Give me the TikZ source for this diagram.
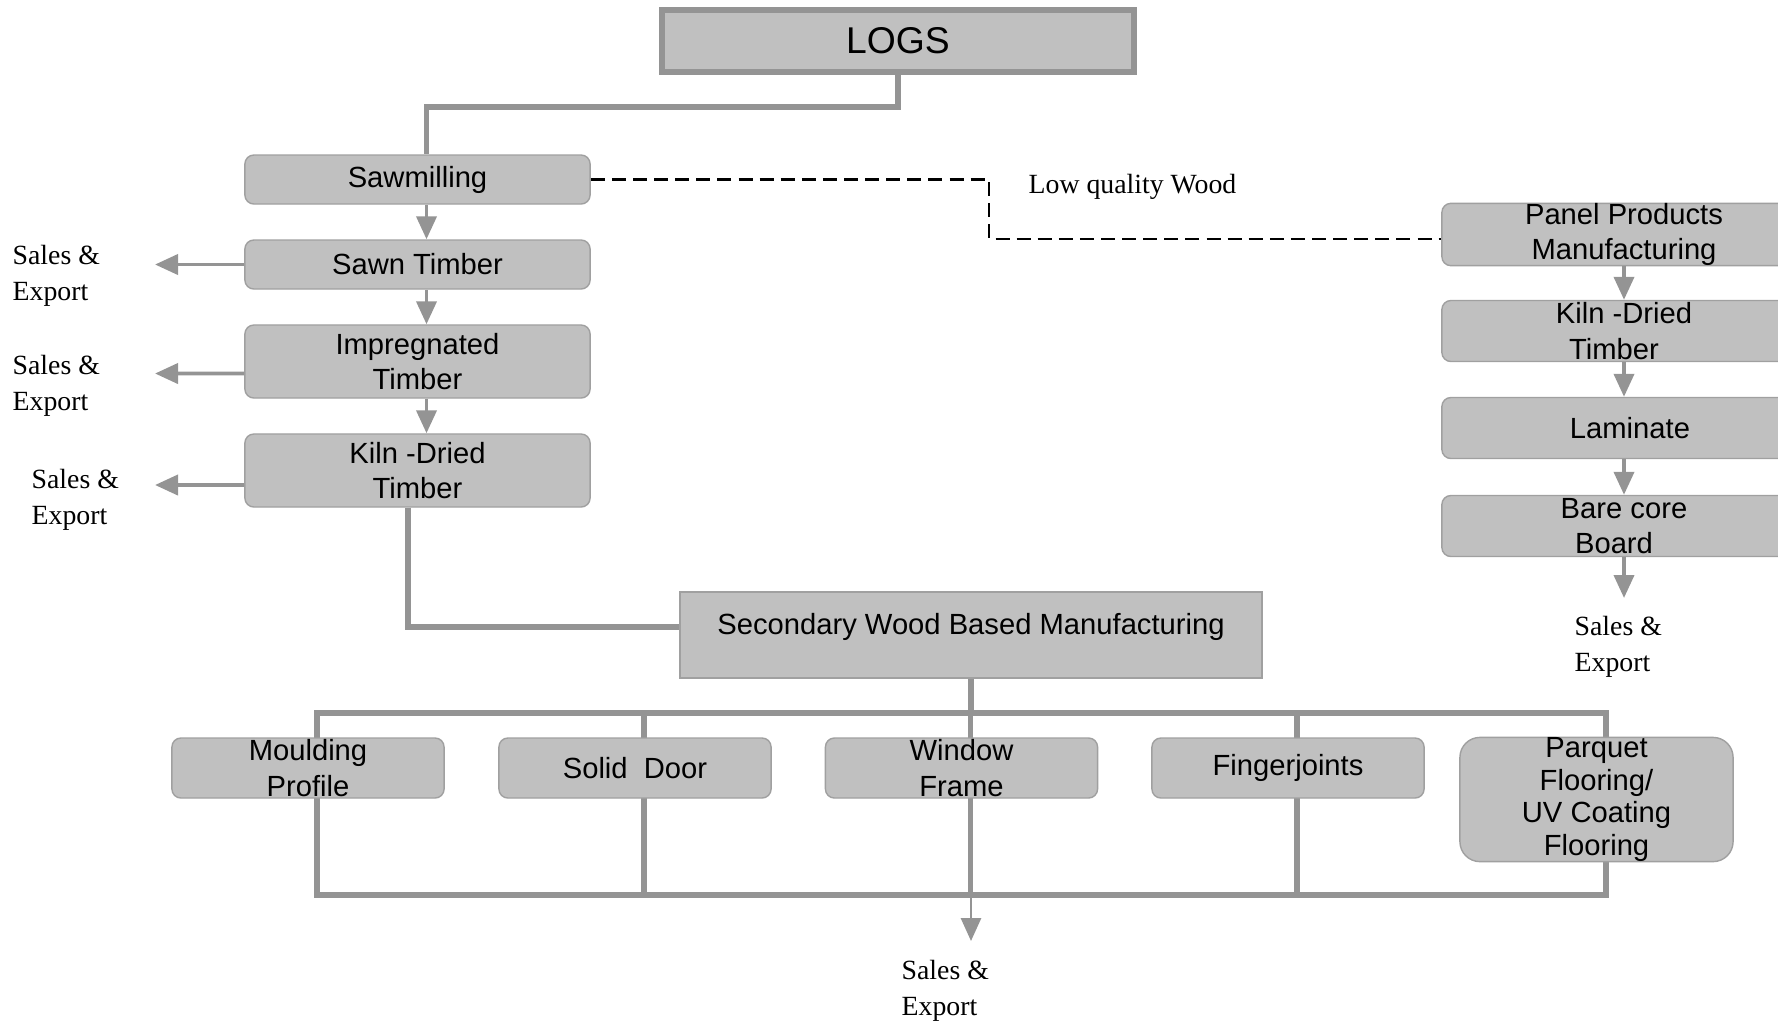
\documentclass[tikz,border=0pt]{standalone}
\usepackage{fontspec}
\setmainfont{Liberation Serif}
\setsansfont{Liberation Sans}
\usetikzlibrary{arrows.meta,backgrounds,positioning}

\definecolor{boxgray}{RGB}{192,192,192}
\definecolor{edgegray}{RGB}{160,160,160}
\definecolor{linegray}{RGB}{148,148,148}

\begin{document}
\begin{tikzpicture}[
        x=0.01cm, y=-0.01cm,
        >={Triangle[length=0.23cm,width=0.2cm]},
        every node/.style={font=\sffamily\fontsize{8.3}{10}\selectfont, align=center},
        stage/.style={draw=edgegray, fill=boxgray, rounded corners=0.09cm,
            minimum width=3.45cm, inner sep=0pt},
        product/.style={stage, minimum width=2.72cm, minimum height=0.6cm},
        panelbox/.style={stage, minimum width=3.64cm, minimum height=0.61cm},
        flow/.style={->, draw=linegray, fill=linegray, line width=1.1pt},
        bus/.style={draw=linegray, line width=1.5pt},
        sales/.style={font=\rmfamily\fontsize{7.9}{10.3}\selectfont, align=left,
            anchor=west, inner sep=0pt}
    ]

        \useasboundingbox (0,0) rectangle (1778,1026);
        \clip (0,0) rectangle (1778,1026);

        \node[draw=linegray, fill=boxgray, line width=1.7pt, minimum width=4.72cm,
            minimum height=0.62cm, font=\sffamily\fontsize{10.6}{12}\selectfont]
            (logs) at (898,41) {LOGS};

        % Sawmill line
        \node[stage, minimum height=0.49cm] (sawmill) at (417.5,179.5) {Sawmilling};
        \node[stage, minimum height=0.49cm] (sawn) at (417.5,264.5) {Sawn Timber};
        \node[stage, minimum height=0.73cm] (impreg) at (417.5,361.5) {Impregnated\\Timber};
        \node[stage, minimum height=0.73cm] (kilnL) at (417.5,470.5) {Kiln -Dried\\Timber};

        \draw[bus] (logs.south) -- ++(0,32) -| ([xshift=0.09cm]sawmill.north);
        \draw[flow] ([xshift=0.09cm]sawmill.south) -- ([xshift=0.09cm]sawn.north);
        \draw[flow] ([xshift=0.09cm]sawn.south) -- ([xshift=0.09cm]impreg.north);
        \draw[flow] ([xshift=0.09cm]impreg.south) -- ([xshift=0.09cm]kilnL.north);

        \coordinate (out1) at (155,264.5);
        \coordinate (out2) at (155,373.5);
        \coordinate (out3) at (155,485);
        \draw[flow] (sawn.west) -- (out1);
        \draw[flow] ([yshift=-0.12cm]impreg.west) -- (out2);
        \draw[flow] ([yshift=-0.145cm]kilnL.west) -- (out3);
        \node[sales] (sales1) at (12,276) {Sales \&\\Export};
        \node[sales] (sales2) at (12,386) {Sales \&\\Export};
        \node[sales] (sales3) at (31,500) {Sales \&\\Export};

        % Panel line
        \node[panelbox] (ppm) at (1624,234.5) {Panel Products\\Manufacturing};
        \node[panelbox] (kilnR) at (1624,331) {Kiln -Dried\\Timber\hspace*{0.2cm}};
        \node[panelbox] (lam) at (1624,428) {\hspace*{0.12cm}Laminate};
        \node[panelbox] (bare) at (1624,526) {Bare core\\Board\hspace*{0.2cm}};

        \draw[flow] (ppm.south) -- (kilnR.north);
        \draw[flow] (kilnR.south) -- (lam.north);
        \draw[flow] (lam.south) -- (bare.north);
        \coordinate (out4) at (1624,598);
        \draw[flow] (bare.south) -- (out4);
        \node[sales] (sales4) at (1574,647) {Sales \&\\Export};

        \coordinate (lowq) at (989,179.5);
        \draw[dash pattern=on 4pt off 2pt, line width=0.6pt]
            (sawmill.east) -- (lowq) |- ([yshift=-0.045cm]ppm.west);
        \node[sales] (lowlabel) at (1028,187) {Low quality Wood};

        % Secondary manufacturing
        \node[draw=edgegray, fill=boxgray, minimum width=5.82cm, minimum height=0.86cm,
            text height=0.3cm, text depth=0.32cm, inner sep=0.12cm]
            (second) at (971,635) {Secondary Wood Based Manufacturing};
        \draw[bus] ([xshift=-0.095cm]kilnL.south) |- ([yshift=0.08cm]second.west);

        \node[product] (mould) at (308,768) {Moulding\\Profile};
        \node[product] (door) at (635,768) {Solid\ \ Door};
        \node[product] (window) at (961.5,768) {Window\\Frame};
        \node[product] (finger) at (1288,768) {Fingerjoints};
        \node[product, minimum width=2.73cm, minimum height=1.23cm, rounded corners=0.2cm,
            font=\sffamily\fontsize{8.3}{9.3}\selectfont]
            (parquet) at (1596.5,799.5) {Parquet\\Flooring/\\UV Coating\\Flooring};

        \coordinate (bustop) at (317,713);
        \coordinate (busbot) at (1606,895);
        \begin{scope}[on background layer]
            \draw[bus] (bustop) rectangle (busbot);
            \foreach \p in {mould,door,window,finger,parquet}
                \draw[bus] ([xshift=0.09cm]\p.center |- bustop) -- ([xshift=0.09cm]\p.center |- busbot);
        \end{scope}
        \draw[bus] (second.south) -- (second.south |- bustop);

        \coordinate (out5) at (971,941);
        \draw[flow, line width=0.8pt] (second.south |- busbot) -- (out5);
        \node[sales] (sales5) at (901,991) {Sales \&\\Export};

    \end{tikzpicture}
\end{document}
